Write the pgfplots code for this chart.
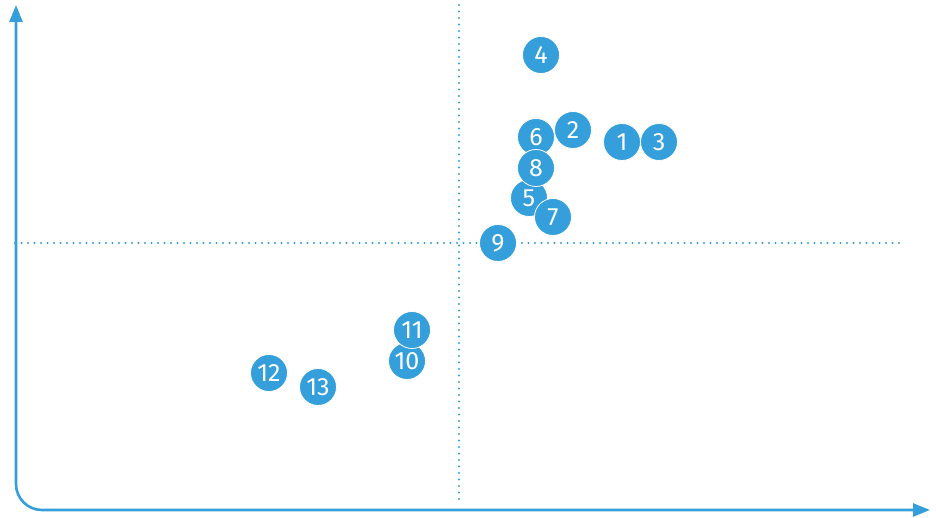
\documentclass[border=0pt]{standalone}
\usepackage{pgfplots}
\pgfplotsset{compat=1.18}
\usepackage{fontspec}
\setmainfont{Fira Sans}
\usetikzlibrary{arrows.meta}
\definecolor{cblue}{RGB}{52,159,218}
\pgfplotstableread{
x y label
622 376 1
573 388 2
659 376 3
541 463 4
529 320 5
536 381 6
553 301 7
536 350 8
498 275 9
407 157 10
412 188 11
269 145 12
318 131 13
}\pts
\begin{document}
\begin{tikzpicture}
\begin{axis}[
  scale only axis, width=936pt, height=518pt,
  xmin=0, xmax=936, ymin=0, ymax=518,
  axis lines=none, clip=false,
]
\path (rel axis cs:0,0) rectangle (rel axis cs:1,1);
\draw[cblue, line width=2.1pt, line cap=round, dash pattern=on 0pt off 6.5pt] (axis cs:459,513) -- (axis cs:459,13);
\draw[cblue, line width=2.1pt, line cap=round, dash pattern=on 0pt off 6.5pt] (axis cs:15,275) -- (axis cs:905,275);
\draw[cblue, line width=2.6pt, rounded corners=26pt, {Triangle[length=17pt,width=13pt]}-{Triangle[length=17pt,width=13pt]}] (axis cs:16,513) -- (axis cs:16,8) -- (axis cs:930,8);
\addplot[only marks, mark=*, mark size=18.5pt, mark options={fill=cblue, draw=white, line width=0.8pt},
  point meta=explicit symbolic,
  nodes near coords, nodes near coords align=center,
  every node near coord/.append style={anchor=center, text=white, font=\fontsize{25}{25}\selectfont, inner sep=0pt}]
  table[x=x, y=y, meta=label] {\pts};
\end{axis}
\end{tikzpicture}
\end{document}
